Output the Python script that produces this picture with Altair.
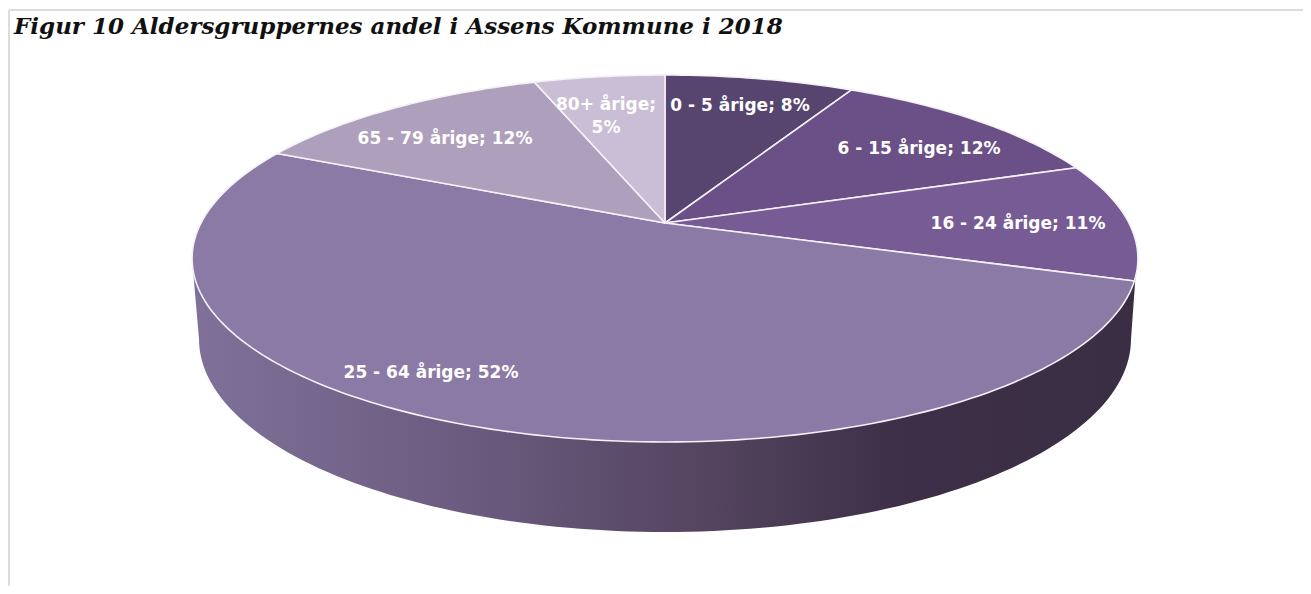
import math
import altair as alt
import pandas as pd

groups = ["0 - 5 årige", "6 - 15 årige", "16 - 24 årige", "25 - 64 årige", "65 - 79 årige", "80+ årige"]
shares = [7.8, 11.8, 10.4, 52.0, 12.6, 5.4]
shown = [8, 12, 11, 52, 12, 5]
colors = ["#574570", "#6a5087", "#775b95", "#8c7aa6", "#ae9fbc", "#c9bed5"]
label_x = [740, 919, 1018, 431, 445, 606]
label_y = [106, 149, 224, 373, 139, 105]
title_text = "Figur 10 Aldersgruppernes andel i Assens Kommune i 2018"

# perspective disc: apex and axes of the tilted pie, in page pixels
CX, CY, R, S, K = 665.0, 223.0, 464.0, 176.6, 0.1935
W, H = 1295, 578
xs = alt.Scale(domain=[8, 8 + W], range=[0, W])
ys = alt.Scale(domain=[8, 8 + H], range=[0, H])


def rim(a):
    d = 1 + K * math.cos(a)
    return CX + R * math.sin(a) / d, CY - S * math.cos(a) / d


rows = []
start = 0.0
for g, v in zip(groups, shares):
    a0 = start / 100 * 2 * math.pi
    a1 = (start + v) / 100 * 2 * math.pi
    rows.append(dict(g=g, i=0, x=CX, y=CY))
    n = max(3, int(v * 3))
    for j in range(n + 1):
        px, py = rim(a0 + (a1 - a0) * j / n)
        rows.append(dict(g=g, i=j + 1, x=px, y=py))
    start += v
slices = pd.DataFrame(rows)

# side wall outline
wall_rows = [dict(i=0, x=193, y=270)]
n = 120
for j in range(n + 1):
    t = math.pi * j / n
    wall_rows.append(dict(i=j + 1, x=665 - 466 * math.cos(t), y=339 + 193 * math.sin(t)))
wall_rows.append(dict(i=n + 2, x=1136, y=270))
wall = pd.DataFrame(wall_rows)

gradient = alt.Gradient(
    gradient="linear", x1=0, x2=1, y1=0, y2=0,
    stops=[
        alt.GradientStop(offset=0, color="#80719a"),
        alt.GradientStop(offset=0.3, color="#6a5a7e"),
        alt.GradientStop(offset=0.55, color="#54445f"),
        alt.GradientStop(offset=0.75, color="#3c2f47"),
        alt.GradientStop(offset=1, color="#3a2e44"),
    ],
)

wall_layer = alt.Chart(wall).mark_line(filled=True, fill=gradient, strokeWidth=0, interpolate="linear-closed").encode(
    x=alt.X("x:Q", scale=xs, axis=None),
    y=alt.Y("y:Q", scale=ys, axis=None),
    order="i:Q",
)

slice_layer = alt.Chart(slices).mark_line(
    filled=True, stroke="#f4f1f7", strokeWidth=1.6, interpolate="linear-closed", strokeJoin="round"
).encode(
    x=alt.X("x:Q", scale=xs, axis=None),
    y=alt.Y("y:Q", scale=ys, axis=None),
    fill=alt.Fill("g:N", scale=alt.Scale(domain=groups, range=colors), legend=None),
    detail="g:N",
    order="i:Q",
)

labels = []
for g, s, lx, ly in zip(groups, shown, label_x, label_y):
    if g.startswith("80+"):
        labels.append(dict(t=g + ";", x=lx, y=ly))
        labels.append(dict(t=f"{s}%", x=lx, y=ly + 23))
    else:
        labels.append(dict(t=f"{g}; {s}%", x=lx, y=ly))
label_layer = alt.Chart(pd.DataFrame(labels)).mark_text(
    color="white", font="DejaVu Sans", fontWeight="bold", fontSize=17, align="center", baseline="middle"
).encode(x=alt.X("x:Q", scale=xs, axis=None), y=alt.Y("y:Q", scale=ys, axis=None), text="t:N")

frame = pd.DataFrame([dict(x=9, x2=1303, y=10, y2=10), dict(x=9, x2=9, y=10, y2=586)])
frame_layer = alt.Chart(frame).mark_rule(color="#dcdcdc", strokeWidth=2).encode(
    x=alt.X("x:Q", scale=xs, axis=None), x2="x2:Q",
    y=alt.Y("y:Q", scale=ys, axis=None), y2="y2:Q",
)

title_layer = alt.Chart(pd.DataFrame([dict(t=title_text, x=14, y=34)])).mark_text(
    font="DejaVu Serif", fontWeight="bold", fontStyle="italic", fontSize=23, align="left",
    baseline="alphabetic", color="#111111",
).encode(x=alt.X("x:Q", scale=xs, axis=None), y=alt.Y("y:Q", scale=ys, axis=None), text="t:N")

chart = alt.layer(frame_layer, wall_layer, slice_layer, label_layer, title_layer).properties(
    width=W, height=H, padding=0, autosize=alt.AutoSizeParams(type="none"),
).configure_view(stroke=None)

chart.save("out.html", embed_options={"renderer": "svg", "actions": False})
